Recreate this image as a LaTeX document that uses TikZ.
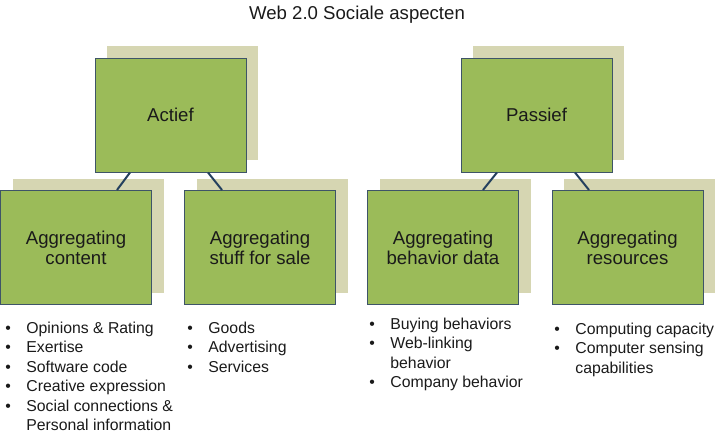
\documentclass[tikz,border=0pt]{standalone}
\usepackage{fontspec}
\usepackage{xcolor}
\setmainfont{Liberation Sans}
\usetikzlibrary{shadows}

\definecolor{boxgreen}{HTML}{9BBB59}
\definecolor{boxedge}{HTML}{3E5468}
\definecolor{boxshade}{HTML}{D6D6B2}
\definecolor{linkblue}{HTML}{24405E}
\definecolor{txt}{HTML}{1A1A1A}

\newcommand{\bul}{\makebox[10.5pt][l]{•}}

\tikzset{
  catbox/.style={rectangle, draw=boxedge, line width=0.5pt, fill=boxgreen,
    minimum width=75.5pt, minimum height=57pt, inner sep=0pt, align=center,
    text=txt, font=\fontsize{9.3}{10}\selectfont,
    general shadow={fill=boxshade, draw=none, shadow xshift=6pt, shadow yshift=6pt}},
  link/.style={draw=linkblue, line width=1pt},
  itemlist/.style={anchor=base west, inner sep=0pt, text=txt,
    font=\fontsize{7.9}{9.75}\selectfont}
}

\begin{document}
\begin{tikzpicture}[x=0.5pt, y=-0.5pt]
  \useasboundingbox (0,0) rectangle (718,434);
  \node[anchor=base, text=txt, font=\fontsize{9.3}{10}\selectfont] (title) at (357,19) {Web 2.0 Sociale aspecten};

  % top level
  \node[catbox] (actief) at (170.5,115) {Actief};
  \node[catbox] (passief) at (536.5,115) {Passief};

  % second level
  \node[catbox] (content) at (76,247.5) {Aggregating\\content};
  \node[catbox] (sale) at (260,247.5) {Aggregating\\stuff for sale};
  \node[catbox] (behavior) at (443,247.5) {Aggregating\\behavior data};
  \node[catbox] (resources) at (627.5,247.5) {Aggregating\\resources};

  \draw[link] ([xshift=-20.25pt]actief.south) -- ([xshift=20.5pt]content.north);
  \draw[link] ([xshift=18.75pt]actief.south) -- ([xshift=-19pt]sale.north);
  \draw[link] ([xshift=-19.75pt]passief.south) -- ([xshift=20pt]behavior.north);
  \draw[link] ([xshift=19.25pt]passief.south) -- ([xshift=-19.25pt]resources.north);

  % lists
  \node[itemlist] (contentlist) at (5,333) {\begin{tabular}[t]{@{}l@{}l@{}}
    \bul & Opinions \& Rating\\
    \bul & Exertise\\
    \bul & Software code\\
    \bul & Creative expression\\
    \bul & Social connections \&\\
         & Personal information
  \end{tabular}};
  \node[itemlist] (salelist) at (187,333) {\begin{tabular}[t]{@{}l@{}l@{}}
    \bul & Goods\\
    \bul & Advertising\\
    \bul & Services
  \end{tabular}};
  \node[itemlist] (behaviorlist) at (369,329) {\begin{tabular}[t]{@{}l@{}l@{}}
    \bul & Buying behaviors\\
    \bul & Web-linking\\
         & behavior\\
    \bul & Company behavior
  \end{tabular}};
  \node[itemlist] (resourceslist) at (554,334) {\begin{tabular}[t]{@{}l@{}l@{}}
    \bul & Computing capacity\\
    \bul & Computer sensing\\
         & capabilities
  \end{tabular}};
\end{tikzpicture}
\end{document}
